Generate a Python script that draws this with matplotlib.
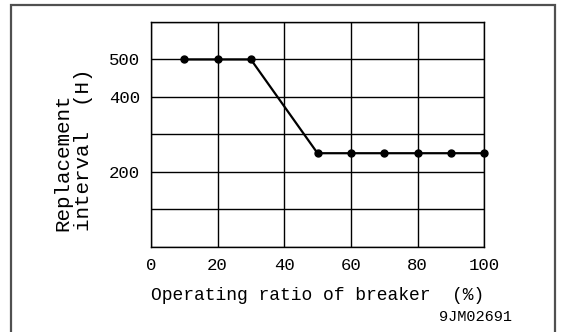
import matplotlib.pyplot as plt
from matplotlib.patches import Rectangle

# Replacement interval vs. breaker operating ratio
ratio = [10, 20, 30, 50, 60, 70, 80, 90, 100]
interval = [500, 500, 500, 250, 250, 250, 250, 250, 250]

x_ticks = [0, 20, 40, 60, 80, 100]
y_grid = [0, 100, 200, 300, 400, 500, 600]
y_labels = ['', '', '200', '', '400', '500', '']

plt.rcParams['font.family'] = ['Liberation Mono', 'DejaVu Sans Mono']

fig = plt.figure(figsize=(5.63, 3.32), dpi=100)
ax = fig.add_axes([0.268, 0.256, 0.592, 0.678])

ax.plot(ratio, interval, color='black', linewidth=1.6, marker='o',
        markersize=5, zorder=3, clip_on=False)

ax.set_xlim(0, 100)
ax.set_ylim(0, 600)
ax.set_xticks(x_ticks)
ax.set_yticks(y_grid)
ax.set_yticklabels(y_labels)
ax.grid(True, color='black', linewidth=1.0)
ax.tick_params(length=0, labelsize=12.5, pad=8)
for s in ax.spines.values():
    s.set_linewidth(1.0)
    s.set_color('black')

ax.set_xlabel('Operating ratio of breaker  (%)', fontsize=13, labelpad=10)

# two-line vertical axis title, bottom aligned
fig.text(73 / 563, 1 - 231 / 332, 'Replacement\ninterval  (H)', rotation=90,
         ha='center', va='bottom', multialignment='left', fontsize=15,
         linespacing=1.1)

fig.text(512 / 563, 1 - 317 / 332, '9JM02691', ha='right', va='center',
         fontsize=11)

# outer frame
fig.patches.append(Rectangle((11 / 563, -0.05), 544 / 563, 0.05 + 327 / 332,
                             transform=fig.transFigure, fill=False,
                             edgecolor='#505050', linewidth=1.6))

fig.savefig('out.png', dpi=100)
